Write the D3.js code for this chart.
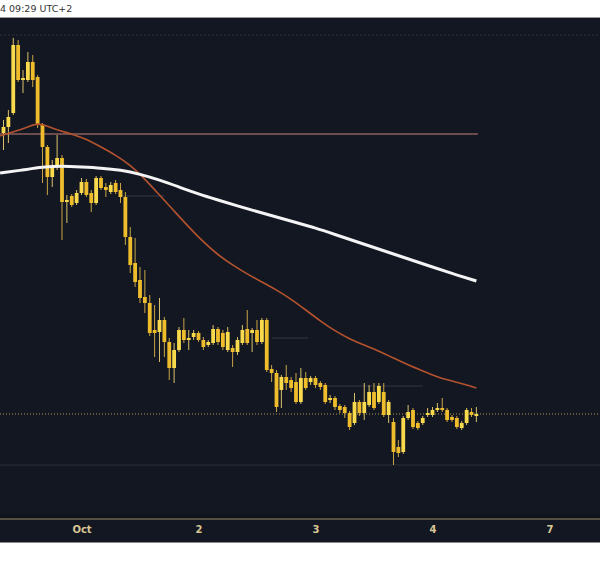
<!DOCTYPE html>
<html><head><meta charset="utf-8">
<script src="https://cdn.jsdelivr.net/npm/d3@7"></script>
<style>html,body{margin:0;padding:0;background:#fff;}svg{display:block;}</style>
</head><body>
<svg id="c" width="600" height="566"></svg>
<script>
// hourly candles, hour index relative to Oct 1 00:00
const firstHour = -16;
const opens  = [467,473,487,555,520,520,538,523,475,453,423,433,442,398,404,397,407,418,407,397,422,413,408,417,410,403,363,337,320,303,297,270,268,280,258,232,250,270,260,263,267,260,255,257,271,267,250,252,248,257,271,267,270,258,280,231,227,210,223,220,218,198,222,218,222,217,215,200,202,194,193,187,177,198,187,195,208,198,208,185,178,153,148,182,190,177,177,185,185,190,192,190,183,182,172,177,188,184];
const highs  = [480,490,562,560,530,548,545,525,477,455,440,465,445,405,406,410,422,421,410,424,424,417,418,420,417,408,373,362,333,330,305,295,302,283,262,257,273,282,270,270,269,263,260,275,273,270,273,255,263,275,290,272,280,282,282,235,230,225,235,223,227,232,228,224,224,219,217,205,204,196,195,189,207,200,217,215,217,217,217,200,182,160,184,195,192,179,184,192,193,197,202,192,185,184,179,192,192,193];
const lows   = [450,457,485,518,507,518,513,472,417,405,413,430,360,377,393,395,405,403,388,395,410,403,406,406,397,355,327,313,297,287,264,243,238,243,220,217,248,257,250,260,258,250,253,255,255,250,248,233,245,255,255,248,255,256,228,218,188,192,210,208,196,196,210,215,212,210,196,197,190,187,182,170,175,184,180,193,190,196,183,177,135,143,146,180,171,170,175,183,183,188,188,178,178,171,170,175,183,178];
const closes = [473,483,555,520,522,538,520,475,453,423,433,442,398,400,395,407,418,405,397,422,412,410,415,408,403,363,335,318,302,297,267,267,280,258,232,250,270,260,262,267,260,253,258,271,258,253,268,248,260,270,257,270,258,280,230,227,193,223,217,212,198,222,212,222,215,213,198,202,193,190,187,173,198,187,198,208,192,214,185,198,148,147,182,188,173,172,182,187,190,192,190,180,180,173,177,190,185,186];

// moving averages read at selected hours
const maSlowHours = [-16.7,-12,-8,-4,0,4,8,12,16,20,24,28,32,36,40,44,48,52,56,60,64,68,72,76,81];
const maSlow      = [427,430,433,434,433,432,430,426,420,413,406,400,394,388.5,383,377.5,372,365.5,359,352.5,346,339.5,333,326.5,319];
const maFastHours = [-16.7,-14,-11,-9,-7,-5,-2,1,4,7,10,13,16,19,22,25,28,31,34,37,40,43,46,49,52,55,58,61,64,67,70,73,76,79,81];
const maFast      = [464,468,473,477,474,470,466,461,453,445,435,421,405,389,373,358,345,335,326,318,310,301,290,279,269,261,255,249,242,235,229,223,219,215,212];

// x axis ticks
const tickHours  = [0,24,48,72,96];
const tickLabels = ["Oct","2","3","4","7"];

const levelLine   = 466;  // horizontal level
const lastPrice   = 186;
const lowerLevel  = 135;
const topGrid     = 565;
const faintLevels = [{p:404,h0:7.5,h1:17},{p:262,h0:39,h1:46.5},{p:214,h0:50.5,h1:70}];

const svg = d3.select("#c");
const W = 600, H = 566;
const plotTop = 18, axisY = 519, bottom = 542;

const x = d3.scaleLinear().domain([-16.718, 106.36]).range([0, 600]);
const y = d3.scaleLinear().domain([80, 580]).range([520, 20]);

svg.append("rect").attr("x",0).attr("y",0).attr("width",W).attr("height",H).attr("fill","#ffffff");
svg.append("rect").attr("x",0).attr("y",plotTop).attr("width",W).attr("height",bottom-plotTop).attr("fill","#131722");
svg.append("line").attr("x1",0).attr("x2",W).attr("y1",17.5).attr("y2",17.5).attr("stroke","#9a9a9a").attr("stroke-width",1);
svg.append("rect").attr("x",0).attr("y",514).attr("width",W).attr("height",5).attr("fill","#0f131b");
svg.append("line").attr("x1",0).attr("x2",W).attr("y1",542.5).attr("y2",542.5).attr("stroke","#8a8a8a").attr("stroke-width",1);

svg.append("text").attr("x",0).attr("y",12).attr("font-family","DejaVu Sans, sans-serif")
  .attr("font-size",9.5).attr("fill","#333").text("4 09:29 UTC+2");

// grid / levels
svg.append("line").attr("x1",0).attr("x2",W).attr("y1",y(topGrid)).attr("y2",y(topGrid))
  .attr("stroke","#2c303b").attr("stroke-width",1).attr("stroke-dasharray","2,2");
svg.append("line").attr("x1",0).attr("x2",W).attr("y1",y(lowerLevel)).attr("y2",y(lowerLevel))
  .attr("stroke","#2a2e39").attr("stroke-width",1);
faintLevels.forEach(f=>{
  svg.append("line").attr("x1",x(f.h0)).attr("x2",x(f.h1)).attr("y1",y(f.p)).attr("y2",y(f.p))
    .attr("stroke","#353945").attr("stroke-width",1);
});
svg.append("line").attr("x1",0).attr("x2",x(81.3)).attr("y1",y(levelLine)).attr("y2",y(levelLine))
  .attr("stroke","#8d5f5c").attr("stroke-width",1.6);
svg.append("line").attr("x1",0).attr("x2",W).attr("y1",y(lastPrice)).attr("y2",y(lastPrice))
  .attr("stroke","#b99b4a").attr("stroke-width",1).attr("stroke-dasharray","1,2");

// candles
const candles = opens.map((o,i)=>({h:firstHour+i,o:o,hi:highs[i],lo:lows[i],c:closes[i]}));
const g = svg.append("g");
g.selectAll("line.w").data(candles).join("line").attr("class","w")
  .attr("x1",d=>x(d.h)).attr("x2",d=>x(d.h)).attr("y1",d=>y(d.hi)).attr("y2",d=>y(d.lo))
  .attr("stroke",d=>d.c>=d.o?"#d9c06a":"#c8a445").attr("stroke-width",1);
const bw = 3.8;
g.selectAll("rect.b").data(candles).join("rect").attr("class","b")
  .attr("x",d=>x(d.h)-bw/2).attr("width",bw)
  .attr("y",d=>y(Math.max(d.o,d.c)))
  .attr("height",d=>Math.max(1.2, Math.abs(y(d.o)-y(d.c))))
  .attr("fill",d=>d.c>=d.o?"#f9da4c":"#efbd2c");

// moving averages
const lineGen = d3.line().x(d=>x(d[0])).y(d=>y(d[1])).curve(d3.curveBasis);
svg.append("path").attr("d",lineGen(maFastHours.map((h,i)=>[h,maFast[i]])))
  .attr("fill","none").attr("stroke","#b4532e").attr("stroke-width",1.6);
svg.append("path").attr("d",lineGen(maSlowHours.map((h,i)=>[h,maSlow[i]])))
  .attr("fill","none").attr("stroke","#f4f4f4").attr("stroke-width",3);

// x axis
svg.append("line").attr("x1",0).attr("x2",W).attr("y1",axisY).attr("y2",axisY)
  .attr("stroke","#9d8a66").attr("stroke-width",1.2);
const ax = d3.axisBottom(x).tickValues(tickHours).tickFormat((d,i)=>tickLabels[i]).tickSize(0).tickPadding(7);
const axG = svg.append("g").attr("transform",`translate(0,${axisY})`).call(ax);
axG.select(".domain").remove();
axG.selectAll("text").attr("fill","#d9c796").attr("font-size",10).attr("font-weight","bold")
  .attr("font-family","DejaVu Sans, sans-serif");
</script>
</body></html>
